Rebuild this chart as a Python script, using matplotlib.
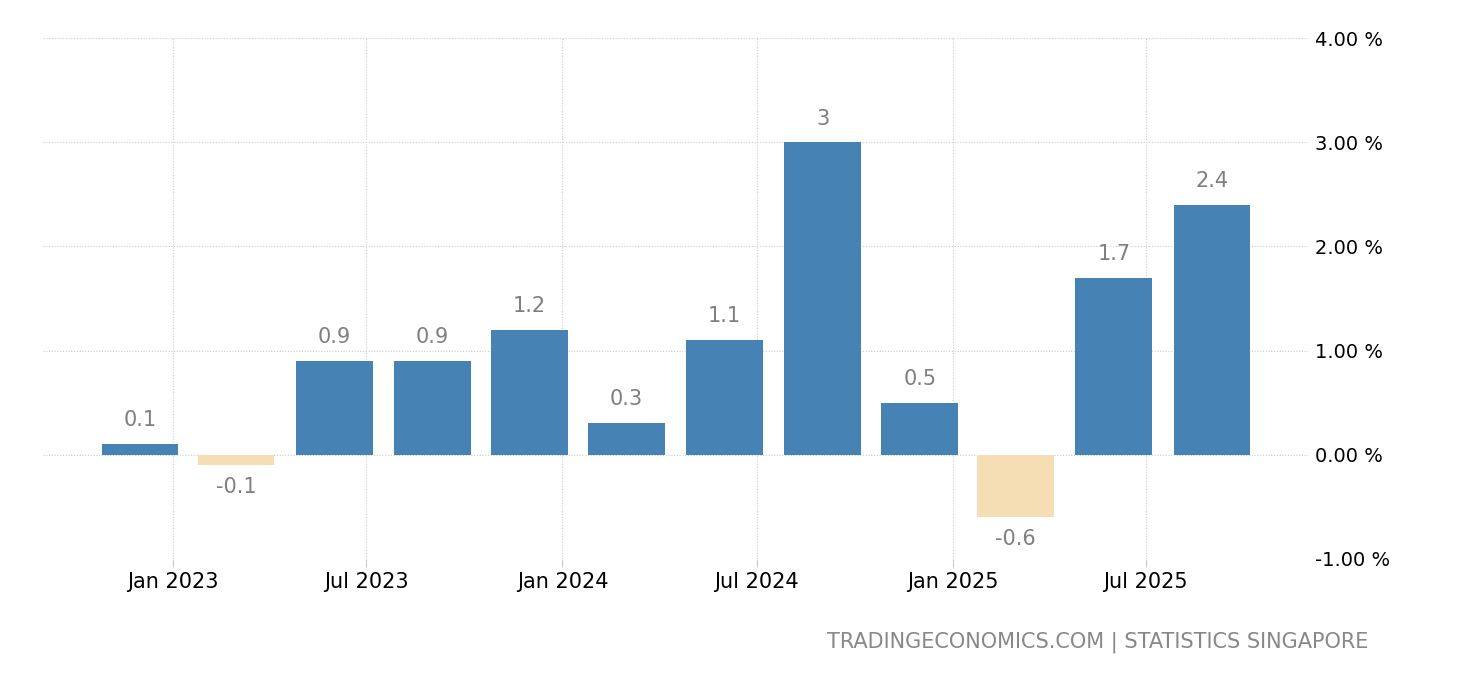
import numpy as np
import pandas as pd
import matplotlib
matplotlib.use("Agg")
import matplotlib.pyplot as plt
import matplotlib.dates as mdates
import matplotlib.ticker as mticker

# --- data ---
quarters = ["2022-12-01", "2023-03-01", "2023-06-01", "2023-09-01",
            "2023-12-01", "2024-03-01", "2024-06-01", "2024-09-01",
            "2024-12-01", "2025-03-01", "2025-06-01", "2025-09-01"]
values = [0.1, -0.1, 0.9, 0.9, 1.2, 0.3, 1.1, 3.0, 0.5, -0.6, 1.7, 2.4]
labels = ["0.1", "-0.1", "0.9", "0.9", "1.2", "0.3", "1.1", "3", "0.5", "-0.6", "1.7", "2.4"]
tick_dates = ["2023-01-01", "2023-07-01", "2024-01-01", "2024-07-01",
              "2025-01-01", "2025-07-01"]
y_ticks = [-1, 0, 1, 2, 3, 4]

BLUE = "#4682b4"
WHEAT = "#f5deb3"
GRID = "#cccccc"
LABEL_GRAY = "#7f7f7f"

plt.rcParams["font.family"] = ["DejaVu Sans"]

dates = pd.to_datetime(quarters)
colors = [BLUE if v >= 0 else WHEAT for v in values]

fig = plt.figure(figsize=(14.6, 6.8), dpi=100)
ax = fig.add_axes([43 / 1460, 1 - 559 / 680, (1308 - 43) / 1460, (559 - 38) / 680])

bars = ax.bar(dates, values, width=72, color=colors, zorder=2)

for d, v, lab in zip(dates, values, labels):
    if v >= 0:
        ax.annotate(lab, (d, v), xytext=(0, 10), textcoords="offset points",
                    ha="center", va="bottom", fontsize=15, color=LABEL_GRAY)
    else:
        ax.annotate(lab, (d, v), xytext=(0, -9), textcoords="offset points",
                    ha="center", va="top", fontsize=15, color=LABEL_GRAY)

ax.set_xlim(pd.Timestamp("2022-09-01"), pd.Timestamp("2025-11-30"))
ax.set_ylim(-1.004, 4.004)

ax.set_xticks(pd.to_datetime(tick_dates))
ax.xaxis.set_major_formatter(mdates.DateFormatter("%b %Y"))
ax.set_yticks(y_ticks)
ax.yaxis.set_major_formatter(mticker.FuncFormatter(lambda v, p: f"{v:.2f} %"))
ax.yaxis.tick_right()

ax.tick_params(axis="x", length=6, color=GRID, labelsize=15, pad=3, labelcolor="black")
ax.tick_params(axis="y", length=0, labelsize=14, pad=5, labelcolor="black")

ax.grid(True, color=GRID, linestyle=(0, (1, 1.5)), linewidth=0.8, zorder=0)
for s in ax.spines.values():
    s.set_visible(False)

fig.text(1368 / 1460, 1 - 642 / 680, "TRADINGECONOMICS.COM | STATISTICS SINGAPORE",
         ha="right", va="center", fontsize=15, color="#888888")

fig.savefig("out.png", dpi=100)
